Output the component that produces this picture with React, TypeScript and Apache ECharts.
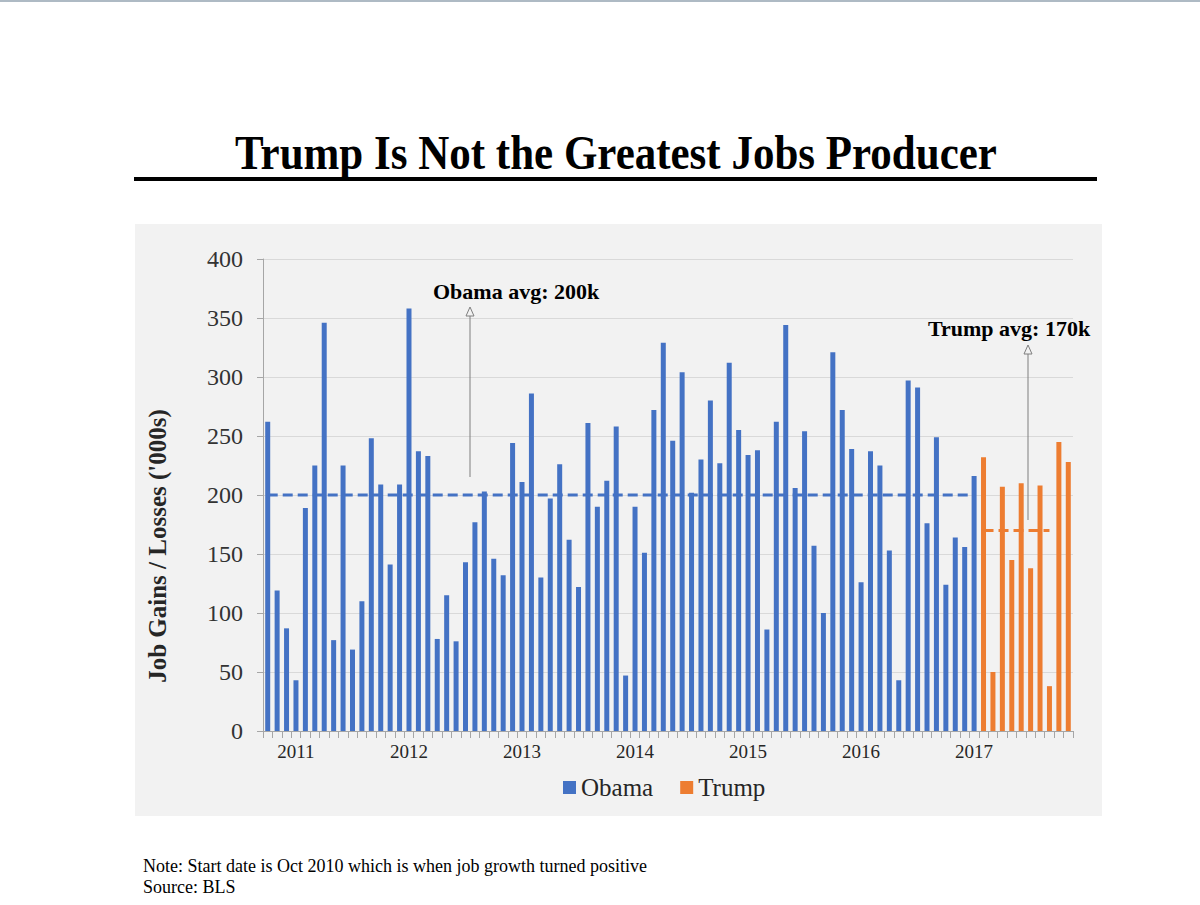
import React, { useEffect, useRef } from "react";
import * as echarts from "echarts";

const months: string[] = [
  "2010-10", "2010-11", "2010-12",
  "2011-01", "2011-02", "2011-03", "2011-04", "2011-05", "2011-06", "2011-07", "2011-08", "2011-09", "2011-10", "2011-11", "2011-12",
  "2012-01", "2012-02", "2012-03", "2012-04", "2012-05", "2012-06", "2012-07", "2012-08", "2012-09", "2012-10", "2012-11", "2012-12",
  "2013-01", "2013-02", "2013-03", "2013-04", "2013-05", "2013-06", "2013-07", "2013-08", "2013-09", "2013-10", "2013-11", "2013-12",
  "2014-01", "2014-02", "2014-03", "2014-04", "2014-05", "2014-06", "2014-07", "2014-08", "2014-09", "2014-10", "2014-11", "2014-12",
  "2015-01", "2015-02", "2015-03", "2015-04", "2015-05", "2015-06", "2015-07", "2015-08", "2015-09", "2015-10", "2015-11", "2015-12",
  "2016-01", "2016-02", "2016-03", "2016-04", "2016-05", "2016-06", "2016-07", "2016-08", "2016-09", "2016-10", "2016-11", "2016-12",
  "2017-01", "2017-02", "2017-03", "2017-04", "2017-05", "2017-06", "2017-07", "2017-08", "2017-09", "2017-10", "2017-11",
];

const obamaValues: number[] = [
  262, 119, 87,
  43, 189, 225, 346, 77, 225, 69, 110, 248, 209, 141, 209,
  358, 237, 233, 78, 115, 76, 143, 177, 203, 146, 132, 244,
  211, 286, 130, 197, 226, 162, 122, 261, 190, 212, 258, 47,
  190, 151, 272, 329, 246, 304, 202, 230, 280, 227, 312, 255,
  234, 238, 86, 262, 344, 206, 254, 157, 100, 321, 272, 239,
  126, 237, 225, 153, 43, 297, 291, 176, 249, 124, 164, 156,
  216,
];

const trumpValues: number[] = [232, 50, 207, 145, 210, 138, 208, 38, 245, 228];

const obamaAvg = 200;
const trumpAvg = 170;
const trumpAvgLastMonth = "2017-09";

const yTicks = { min: 0, max: 400, interval: 50 };

const BLUE = "#4472C4";
const ORANGE = "#ED7D31";
const SERIF = '"Liberation Serif", "Times New Roman", serif';

export default function App() {
  const ref = useRef<HTMLDivElement>(null);

  useEffect(() => {
    if (!ref.current) return;
    const chart = echarts.init(ref.current, undefined, { renderer: "svg" });

    const nObama = obamaValues.length;
    const obamaSeries = months.map((_, i) => (i < nObama ? obamaValues[i] : null));
    const trumpSeries = months.map((_, i) => (i >= nObama ? trumpValues[i - nObama] : null));
    const lastTrumpIdx = months.indexOf(trumpAvgLastMonth);
    const obamaAvgLine = months.map((_, i) => (i < nObama ? obamaAvg : null));
    const trumpAvgLine = months.map((_, i) => (i >= nObama && i <= lastTrumpIdx ? trumpAvg : null));

    const arrowHead = (x: number, y: number) => ({
      type: "polygon",
      shape: { points: [[x, y], [x - 4, y + 9], [x + 4, y + 9]] },
      style: { fill: "#F2F2F2", stroke: "#7F7F7F", lineWidth: 1 },
      z: 50,
    });

    chart.setOption({
      animation: false,
      backgroundColor: "#FFFFFF",
      grid: { left: 263, right: 127, top: 259, bottom: 174, containLabel: false },
      legend: {
        data: ["Obama", "Trump"],
        left: 558,
        top: 770,
        icon: "rect",
        itemWidth: 13,
        itemHeight: 13,
        itemGap: 27,
        textStyle: { fontFamily: SERIF, fontSize: 25, color: "#262626" },
      },
      xAxis: {
        type: "category",
        data: months,
        boundaryGap: true,
        axisLine: { show: true, lineStyle: { color: "#A6A6A6", width: 1 } },
        axisTick: { show: true, interval: 0, length: 7, lineStyle: { color: "#A6A6A6" } },
        axisLabel: {
          interval: 0,
          margin: 11,
          fontFamily: SERIF,
          fontSize: 19,
          color: "#262626",
          formatter: (v: string) => (v.endsWith("-01") ? v.slice(0, 4) : ""),
        },
        splitLine: { show: false },
      },
      yAxis: {
        type: "value",
        min: yTicks.min,
        max: yTicks.max,
        interval: yTicks.interval,
        axisLine: { show: true, lineStyle: { color: "#A6A6A6", width: 1 } },
        axisTick: { show: true, length: 6, lineStyle: { color: "#A6A6A6" } },
        axisLabel: { margin: 20, fontFamily: SERIF, fontSize: 24, color: "#333333" },
        splitLine: { show: true, lineStyle: { color: "#D9D9D9", width: 1 } },
      },
      series: [
        {
          name: "Obama",
          type: "bar",
          data: obamaSeries,
          barWidth: 5,
          barGap: "-100%",
          itemStyle: { color: BLUE },
          z: 2,
        },
        {
          name: "Trump",
          type: "bar",
          data: trumpSeries,
          barWidth: 5,
          barGap: "-100%",
          itemStyle: { color: ORANGE },
          z: 2,
        },
        {
          name: "Obama avg",
          type: "line",
          data: obamaAvgLine,
          symbol: "none",
          connectNulls: false,
          lineStyle: { color: BLUE, width: 3, type: [10, 5] },
          z: 5,
        },
        {
          name: "Trump avg",
          type: "line",
          data: trumpAvgLine,
          symbol: "none",
          connectNulls: false,
          lineStyle: { color: ORANGE, width: 3, type: [10, 5] },
          z: 5,
        },
      ],
      graphic: [
        { type: "rect", shape: { x: 0, y: 0, width: 1200, height: 2 }, style: { fill: "#AEBAC4" }, z: -10, silent: true },
        { type: "rect", shape: { x: 135, y: 224, width: 967, height: 592 }, style: { fill: "#F2F2F2" }, z: -10, silent: true },
        {
          type: "text",
          x: 616,
          y: 152,
          scaleY: 1.15,
          style: {
            text: "Trump Is Not the Greatest Jobs Producer",
            font: `bold 43px ${SERIF}`,
            fill: "#000000",
            textAlign: "center",
            textVerticalAlign: "middle",
          },
        },
        { type: "rect", shape: { x: 134, y: 177, width: 963, height: 4 }, style: { fill: "#000000" } },
        {
          type: "text",
          x: 157,
          y: 546,
          rotation: Math.PI / 2,
          style: {
            text: "Job Gains / Losses ('000s)",
            font: `bold 25px ${SERIF}`,
            fill: "#262626",
            textAlign: "center",
            textVerticalAlign: "middle",
          },
        },
        {
          type: "text",
          x: 433,
          y: 291,
          style: {
            text: "Obama avg: 200k",
            font: `bold 22px ${SERIF}`,
            fill: "#000000",
            textAlign: "left",
            textVerticalAlign: "middle",
          },
          z: 50,
        },
        { type: "line", shape: { x1: 470, y1: 477, x2: 470, y2: 316 }, style: { stroke: "#7F7F7F", lineWidth: 1 }, z: 50 },
        arrowHead(470, 307),
        {
          type: "text",
          x: 928,
          y: 328,
          style: {
            text: "Trump avg: 170k",
            font: `bold 22px ${SERIF}`,
            fill: "#000000",
            textAlign: "left",
            textVerticalAlign: "middle",
          },
          z: 50,
        },
        { type: "line", shape: { x1: 1028, y1: 520, x2: 1028, y2: 354 }, style: { stroke: "#7F7F7F", lineWidth: 1 }, z: 50 },
        arrowHead(1028, 345),
        {
          type: "text",
          x: 143,
          y: 866,
          style: {
            text: "Note: Start date is Oct 2010 which is when job growth turned positive",
            font: `18px ${SERIF}`,
            fill: "#000000",
            textAlign: "left",
            textVerticalAlign: "middle",
          },
        },
        {
          type: "text",
          x: 143,
          y: 887,
          style: {
            text: "Source: BLS",
            font: `18px ${SERIF}`,
            fill: "#000000",
            textAlign: "left",
            textVerticalAlign: "middle",
          },
        },
      ],
    });

    return () => chart.dispose();
  }, []);

  return (
    <div
      ref={ref}
      style={{ position: "fixed", left: 0, top: 0, width: 1200, height: 905 }}
    />
  );
}
